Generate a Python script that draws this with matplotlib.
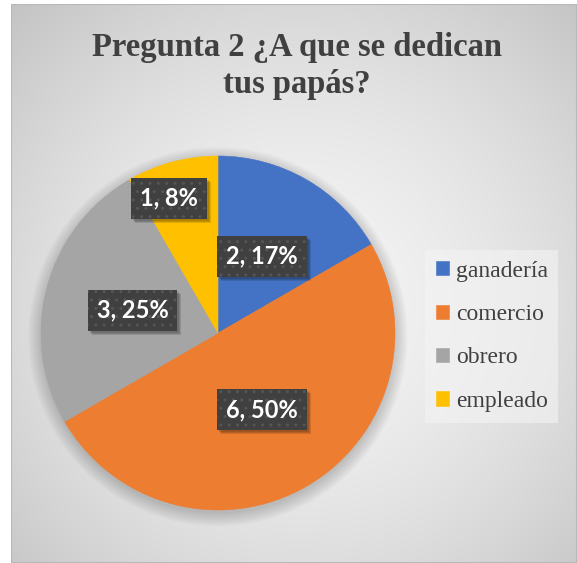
import numpy as np
import matplotlib.pyplot as plt
from matplotlib.patches import Rectangle, Circle
from matplotlib.transforms import IdentityTransform

categorias = ['ganadería', 'comercio', 'obrero', 'empleado']
valores = [2, 6, 3, 1]
colores = ['#4472C4', '#ED7D31', '#A5A5A5', '#FFC000']
titulo = 'Pregunta 2 ¿A que se dedican\ntus papás?'

W, H = 577, 563
fig = plt.figure(figsize=(W / 100, H / 100), dpi=100)
fig.patch.set_facecolor('white')

# fondo con degradado radial (como en Excel)
bg = fig.add_axes([11 / W, 0, 1 - 11 / W, 1 - 4 / H])
yy, xx = np.mgrid[0:559, 0:566]
d = np.hypot(xx - 290, yy - 300) / np.hypot(300, 300)
g = np.clip(0.96 - 0.2 * d ** 1.6, 0, 1)
bg.imshow(np.dstack([g, g, g]), aspect='auto', interpolation='bilinear')
bg.set_axis_off()
bg.add_patch(Rectangle((0, 0), 1, 1, transform=bg.transAxes, fill=False,
                       edgecolor='#b8b8b8', linewidth=1.5))

# pastel
R = 177
ax = fig.add_axes([(218 - R) / W, (H - 333 - R) / H, 2 * R / W, 2 * R / H])

wedges, _ = ax.pie(valores, colors=colores, startangle=90, counterclock=False,
                   radius=1, wedgeprops=dict(linewidth=0.4, zorder=2))
for w, c in zip(wedges, colores):
    w.set_edgecolor(c)
ax.set_xlim(-1, 1)
ax.set_ylim(-1, 1)
ax.set_axis_off()

# sombra suave del pastel
for k in range(8):
    ax.add_patch(Circle((0.0, -0.02), 1.0 + 0.01 * k, color='black',
                        alpha=0.022, linewidth=0, zorder=0, clip_on=False))

total = sum(valores)
dist = [0.5, 0.5, 0.5, 0.81]
ajuste = [0, 0, 0, 5]
etiquetas = []
for w, v, r, a in zip(wedges, valores, dist, ajuste):
    ang = np.deg2rad((w.theta1 + w.theta2) / 2 + a)
    x, y = r * np.cos(ang), r * np.sin(ang)
    txt = f'{v}, {v / total * 100:.0f}%'
    t = ax.text(x, y, txt, ha='center', va='center', fontsize=17,
                fontweight='bold', family='Lato', color='white', zorder=6)
    etiquetas.append(t)

# cajas oscuras con sombra y puntos, medidas sobre el texto
fig.canvas.draw()
rend = fig.canvas.get_renderer()
for t in etiquetas:
    bb = t.get_window_extent(rend)
    cx, cy = (bb.x0 + bb.x1) / 2, (bb.y0 + bb.y1) / 2
    bw, bh = bb.width + 18, 41
    x0, y0 = cx - bw / 2, cy - bh / 2
    for k, al in enumerate([0.12, 0.12, 0.12]):
        ax.add_patch(Rectangle((x0 + 2 + k, y0 - 2 - k), bw, bh,
                               transform=IdentityTransform(), facecolor='black',
                               edgecolor='none', alpha=al, zorder=3))
    ax.add_patch(Rectangle((x0, y0), bw, bh, transform=IdentityTransform(),
                           facecolor='#404040', edgecolor='none', zorder=4))
    ax.add_patch(Rectangle((x0, y0), bw, bh, transform=IdentityTransform(),
                           facecolor='none', edgecolor='#555555', linewidth=0,
                           hatch='..', zorder=5))

fig.text(297 / W, 1 - 66 / H, titulo, ha='center', va='center',
         fontsize=23.5, fontweight='bold', family='Liberation Serif',
         color='#404040', linespacing=1.28)

leg = fig.legend(wedges, categorias, loc='upper left',
                 bbox_to_anchor=(425 / W, 1 - 250 / H),
                 prop=dict(family='Liberation Serif', size=17),
                 handlelength=0.55, handleheight=0.55, handletextpad=0.3,
                 labelspacing=0.95, borderpad=0.45, borderaxespad=0,
                 fancybox=False, frameon=True, facecolor='#f4f4f4',
                 edgecolor='none', framealpha=0.6)
for t in leg.get_texts():
    t.set_color('#404040')

fig.savefig('out.png', dpi=100)
